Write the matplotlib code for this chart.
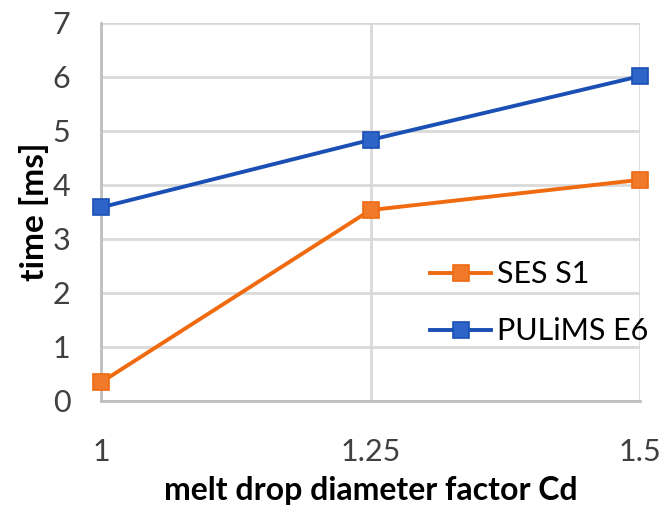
import matplotlib
matplotlib.use("Agg")
import matplotlib.pyplot as plt

categories = ["1", "1.25", "1.5"]
ses_s1 = [0.34, 3.53, 4.09]
pulims_e6 = [3.58, 4.83, 6.01]
yticks = [0, 1, 2, 3, 4, 5, 6, 7]

plt.rcParams['font.family'] = ['Lato', 'DejaVu Sans']

fig = plt.figure(figsize=(6.62, 5.12), dpi=100)
ax = fig.add_axes([0.1526, 0.2174, 0.8142, 0.7383])

x = list(range(len(categories)))
ax.plot(x, ses_s1, color='#f06a10', lw=2.8, marker='s', ms=11,
        mfc='#f07a2a', mec='#f06a10', mew=1.2, label='SES S1', zorder=3, clip_on=False)
ax.plot(x, pulims_e6, color='#1a4fb5', lw=2.8, marker='s', ms=11,
        mfc='#2e64c8', mec='#1a4fb5', mew=1.2, label='PULiMS E6', zorder=3, clip_on=False)

ax.set_xlim(0, len(categories) - 1)
ax.set_ylim(0, 7)
ax.set_xticks(x)
ax.set_xticklabels(categories)
ax.set_yticks(yticks)

ax.grid(True, color='#d9d9d9', lw=2)
ax.set_axisbelow(True)
for s in ['top', 'right']:
    ax.spines[s].set_visible(False)
for s in ['left', 'bottom']:
    ax.spines[s].set_color('#bfbfbf')
    ax.spines[s].set_linewidth(2)

ax.tick_params(axis='both', length=0, labelsize=22, labelcolor='#404040')
ax.tick_params(axis='y', pad=22)
ax.tick_params(axis='x', pad=27)

ax.set_xlabel('melt drop diameter factor Cd', fontsize=23, fontweight='bold', labelpad=7)
ax.set_ylabel('time [ms]', fontsize=24, fontweight='bold', labelpad=3)

leg = ax.legend(loc='lower right', bbox_to_anchor=(1.039, 0.114), frameon=False,
                fontsize=22, handlelength=2.0, handletextpad=0.2, labelspacing=0.95,
                borderaxespad=0)

fig.savefig('out.png', dpi=100)
